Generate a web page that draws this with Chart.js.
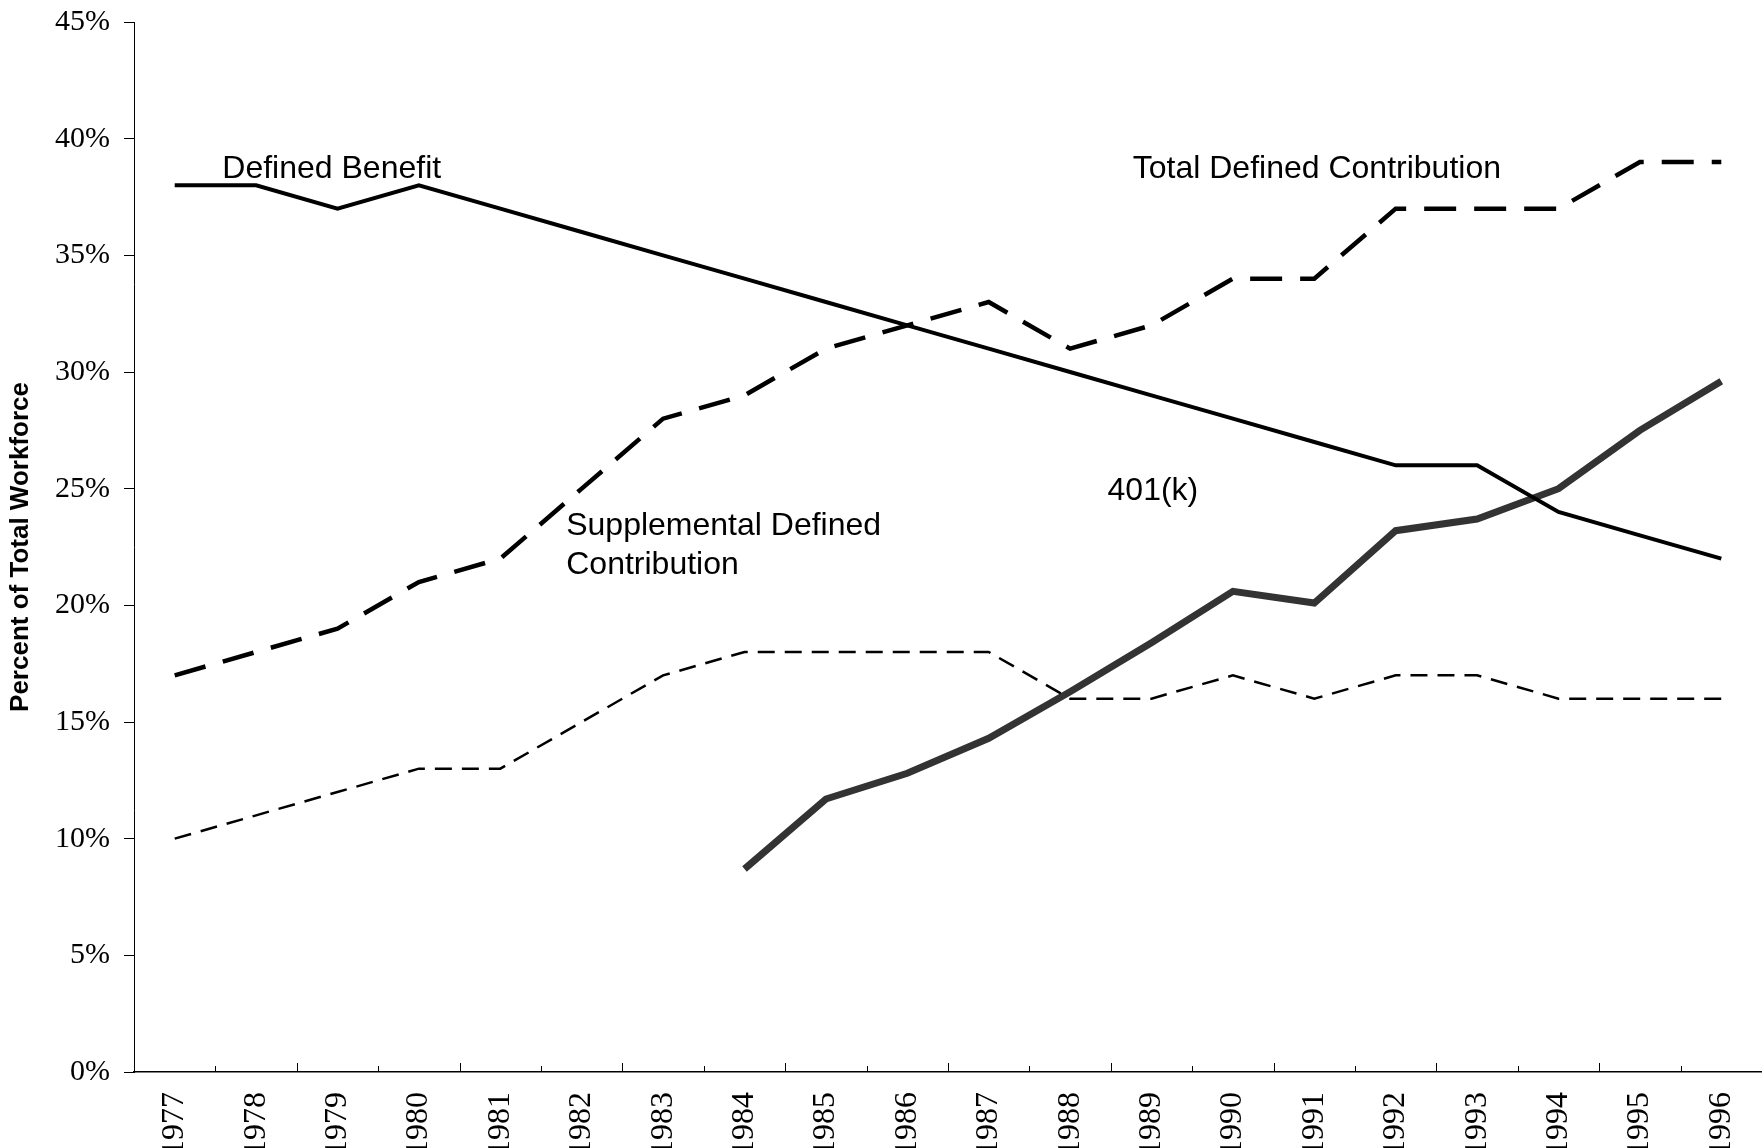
<!DOCTYPE html>
<html>
<head>
<meta charset="utf-8">
<script src="https://cdn.jsdelivr.net/npm/chart.js@4.4.1/dist/chart.umd.min.js"></script>
<style>
    body { margin: 0; background: #fff; }
    #box { width: 1762px; height: 1148px; position: relative; }
</style>
</head>
<body>
<div id="box"><canvas id="grafico"></canvas></div>
<script>
const anos = ['1977', '1978', '1979', '1980', '1981', '1982', '1983', '1984', '1985', '1986',
              '1987', '1988', '1989', '1990', '1991', '1992', '1993', '1994', '1995', '1996'];
const definedBenefit = [38, 38, 37, 38, 37, 36, 35, 34, 33, 32, 31, 30, 29, 28, 27, 26, 26, 24, 23, 22];
const totalDefinedContribution = [17, 18, 19, 21, 22, 25, 28, 29, 31, 32, 33, 31, 32, 34, 34, 37, 37, 37, 39, 39];
const supplementalDC = [10, 11, 12, 13, 13, 15, 17, 18, 18, 18, 18, 16, 16, 17, 16, 17, 17, 16, 16, 16];
const plano401k = [null, null, null, null, null, null, null, 8.7, 11.7, 12.8, 14.3, 16.3, 18.4, 20.6, 20.1, 23.2, 23.7, 25.0, 27.5, 29.6];
const yTicks = [0, 5, 10, 15, 20, 25, 30, 35, 40, 45];

// rotulos escritos dentro do grafico: [texto, indice x, valor y]
const rotulos = [
    ['Defined Benefit', 0.585, 38.7],
    ['Total Defined Contribution', 11.77, 38.7],
    ['401(k)', 11.46, 24.9],
    ['Supplemental Defined', 4.81, 23.4],
    ['Contribution', 4.81, 21.7],
];

// marcas do eixo x entre as categorias, voltadas para dentro
const pluginTicksX = {
    id: 'ticksX',
    afterDatasetsDraw(chart) {
        const ctx = chart.ctx;
        const x = chart.scales.x;
        const base = chart.chartArea.bottom;
        ctx.save();
        ctx.strokeStyle = '#000';
        ctx.lineWidth = 1;
        for (let i = 1; i < anos.length; i++) {
            const px = Math.round((x.getPixelForValue(i - 1) + x.getPixelForValue(i)) / 2) + 0.5;
            const len = i % 2 === 0 ? 9 : 6;
            ctx.beginPath();
            ctx.moveTo(px, base);
            ctx.lineTo(px, base - len);
            ctx.stroke();
        }
        ctx.restore();
    }
};

const pluginRotulos = {
    id: 'rotulos',
    afterDatasetsDraw(chart) {
        const ctx = chart.ctx;
        ctx.save();
        ctx.font = '32px "Liberation Sans", Arial, sans-serif';
        ctx.fillStyle = '#000';
        ctx.textAlign = 'left';
        ctx.textBaseline = 'middle';
        rotulos.forEach(r => {
            ctx.fillText(r[0], chart.scales.x.getPixelForValue(r[1]), chart.scales.y.getPixelForValue(r[2]));
        });
        ctx.restore();
    }
};

const divGrafico = document.getElementById('grafico').getContext('2d');

const grafico = new Chart(divGrafico, {
    type: 'line',
    data: {
        labels: anos,
        datasets: [
            {
                label: 'Supplemental Defined Contribution',
                data: supplementalDC,
                borderColor: '#000',
                borderWidth: 2.5,
                borderDash: [17, 10],
                pointRadius: 0,
                tension: 0,
            },
            {
                label: 'Total Defined Contribution',
                data: totalDefinedContribution,
                borderColor: '#000',
                borderWidth: 4.5,
                borderDash: [32, 18],
                pointRadius: 0,
                tension: 0,
            },
            {
                label: 'Defined Benefit',
                data: definedBenefit,
                borderColor: '#000',
                borderWidth: 4,
                pointRadius: 0,
                tension: 0,
            },
            {
                label: '401(k)',
                data: plano401k,
                borderColor: '#333',
                borderWidth: 7,
                pointRadius: 0,
                tension: 0,
            }
        ]
    },
    options: {
        maintainAspectRatio: false,
        responsive: true,
        animation: false,
        layout: {
            padding: { top: 22, right: 0, left: 0, bottom: 0 }
        },
        plugins: {
            legend: { display: false },
            tooltip: { enabled: false }
        },
        scales: {
            x: {
                offset: true,
                grid: { display: false, drawOnChartArea: false, drawTicks: false, offset: true },
                border: { display: true, color: '#000', width: 1.5 },
                ticks: {
                    minRotation: 90,
                    maxRotation: 90,
                    autoSkip: false,
                    padding: 20,
                    color: '#000',
                    font: { family: '"Liberation Serif", "Times New Roman", serif', size: 32 }
                },
                afterFit(scale) {
                    scale.height = 76;
                    scale.paddingLeft = 0;
                    scale.paddingRight = 0;
                }
            },
            y: {
                min: 0,
                max: 45,
                afterBuildTicks(scale) {
                    scale.ticks = yTicks.map(v => ({ value: v }));
                },
                grid: { drawOnChartArea: false, drawTicks: true, tickLength: 10, color: '#000' },
                border: { display: true, color: '#000', width: 1 },
                ticks: {
                    padding: 14,
                    color: '#000',
                    font: { family: '"Liberation Serif", "Times New Roman", serif', size: 30 },
                    callback: v => v + '%'
                },
                title: {
                    display: true,
                    text: 'Percent of Total Workforce',
                    color: '#000',
                    padding: { top: 5, bottom: 0 },
                    font: { family: '"Liberation Sans", Arial, sans-serif', size: 26, weight: 'bold' }
                },
                afterFit(scale) {
                    scale.width = 134;
                    scale.paddingTop = 0;
                    scale.paddingBottom = 0;
                }
            }
        }
    },
    plugins: [pluginTicksX, pluginRotulos]
});
</script>
</body>
</html>
